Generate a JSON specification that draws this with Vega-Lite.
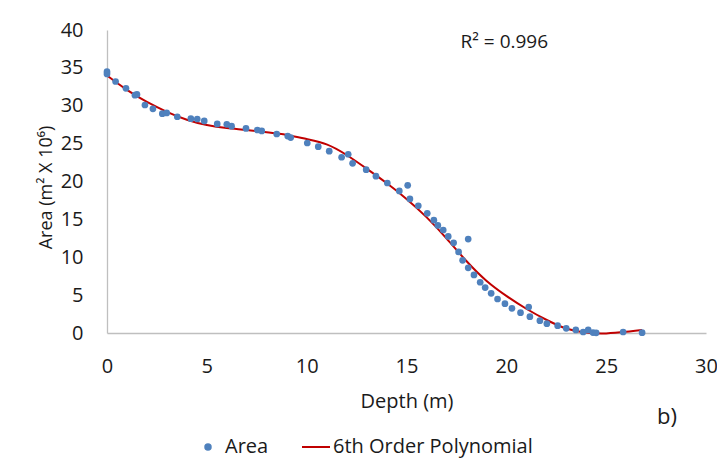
{
  "$schema": "https://vega.github.io/schema/vega-lite/v6.json",
  "autosize": "none",
  "width": 599,
  "height": 303,
  "padding": {"left": 107, "top": 30, "right": 11, "bottom": 141},
  "config": {
    "view": {"stroke": null},
    "font": "Open Sans",
    "axis": {"labelFont": "Open Sans", "titleFont": "Open Sans", "labelColor": "#1a1a1a", "titleColor": "#1a1a1a", "labelFontSize": 20, "titleFontSize": 20, "titleFontWeight": "normal", "grid": false, "ticks": false, "domainColor": "#bfbfbf", "domainWidth": 1.3, "labelOverlap": false, "labelFlush": false},
    "legend": {"labelFont": "Open Sans", "labelFontSize": 20, "labelColor": "#1a1a1a", "labelLimit": 400}
  },
  "datasets": {
    "pts": [
      {"depth": 0, "area": 34.5}, {"depth": 0, "area": 34.2}, {"depth": 0.43, "area": 33.2}, {"depth": 0.95, "area": 32.3},
      {"depth": 1.4, "area": 31.4}, {"depth": 1.5, "area": 31.5}, {"depth": 1.9, "area": 30.1}, {"depth": 2.3, "area": 29.6},
      {"depth": 2.77, "area": 28.95}, {"depth": 2.99, "area": 29.05}, {"depth": 3.52, "area": 28.55}, {"depth": 4.2, "area": 28.3},
      {"depth": 4.52, "area": 28.25}, {"depth": 4.87, "area": 28.0}, {"depth": 5.52, "area": 27.6}, {"depth": 6.0, "area": 27.55},
      {"depth": 6.24, "area": 27.3}, {"depth": 6.96, "area": 27.0}, {"depth": 7.53, "area": 26.8}, {"depth": 7.75, "area": 26.67},
      {"depth": 8.5, "area": 26.27}, {"depth": 9.05, "area": 26.0}, {"depth": 9.2, "area": 25.8}, {"depth": 10.03, "area": 25.08},
      {"depth": 10.58, "area": 24.6}, {"depth": 11.13, "area": 24.0}, {"depth": 11.75, "area": 23.2}, {"depth": 12.08, "area": 23.6},
      {"depth": 12.3, "area": 22.4}, {"depth": 12.98, "area": 21.56}, {"depth": 13.47, "area": 20.7}, {"depth": 14.04, "area": 19.8},
      {"depth": 14.64, "area": 18.75}, {"depth": 15.06, "area": 19.5}, {"depth": 15.17, "area": 17.7}, {"depth": 15.59, "area": 16.8},
      {"depth": 16.04, "area": 15.8}, {"depth": 16.37, "area": 14.9}, {"depth": 16.57, "area": 14.2}, {"depth": 16.84, "area": 13.6},
      {"depth": 17.09, "area": 12.75}, {"depth": 17.36, "area": 11.9}, {"depth": 17.61, "area": 10.7}, {"depth": 17.81, "area": 9.6},
      {"depth": 18.09, "area": 12.4}, {"depth": 18.09, "area": 8.6}, {"depth": 18.38, "area": 7.66}, {"depth": 18.69, "area": 6.7},
      {"depth": 18.94, "area": 6.0}, {"depth": 19.24, "area": 5.24}, {"depth": 19.56, "area": 4.49}, {"depth": 19.93, "area": 3.87},
      {"depth": 20.28, "area": 3.26}, {"depth": 20.71, "area": 2.68}, {"depth": 21.12, "area": 3.43}, {"depth": 21.18, "area": 2.15},
      {"depth": 21.68, "area": 1.63}, {"depth": 22.03, "area": 1.23}, {"depth": 22.57, "area": 0.97}, {"depth": 23.0, "area": 0.62},
      {"depth": 23.48, "area": 0.4}, {"depth": 23.85, "area": 0.13}, {"depth": 24.1, "area": 0.4}, {"depth": 24.34, "area": 0.05},
      {"depth": 24.5, "area": 0.02}, {"depth": 25.85, "area": 0.13}, {"depth": 26.8, "area": 0.04}
    ],
    "fit": [
      {"depth": 0, "area": 34.0}, {"depth": 1, "area": 32.1}, {"depth": 2, "area": 30.5}, {"depth": 3, "area": 29.2},
      {"depth": 4, "area": 28.15}, {"depth": 5, "area": 27.45}, {"depth": 6, "area": 27.05}, {"depth": 7, "area": 26.8},
      {"depth": 8, "area": 26.5}, {"depth": 9, "area": 26.15}, {"depth": 10, "area": 25.6}, {"depth": 11, "area": 24.9},
      {"depth": 12, "area": 23.5}, {"depth": 13, "area": 21.7}, {"depth": 14, "area": 19.8}, {"depth": 15, "area": 17.7},
      {"depth": 16, "area": 15.3}, {"depth": 17, "area": 12.5}, {"depth": 18, "area": 9.5}, {"depth": 19, "area": 6.9},
      {"depth": 20, "area": 4.9}, {"depth": 21, "area": 3.2}, {"depth": 22, "area": 1.75}, {"depth": 23, "area": 0.6},
      {"depth": 24, "area": 0.05}, {"depth": 25, "area": -0.05}, {"depth": 26, "area": 0.15}, {"depth": 26.8, "area": 0.4}
    ]
  },
  "layer": [
    {
      "data": {"name": "fit"},
      "transform": [{"calculate": "'6th Order Polynomial'", "as": "series"}],
      "mark": {"type": "line", "interpolate": "natural", "strokeWidth": 2, "clip": false},
      "encoding": {
        "x": {"field": "depth", "type": "quantitative", "scale": {"domain": [0, 30]}, "axis": {"title": "Depth (m)", "values": [0, 5, 10, 15, 20, 25, 30], "labelOverlap": false, "labelPadding": 23, "titlePadding": 15}},
        "y": {"field": "area", "type": "quantitative", "scale": {"domain": [0, 40]}, "axis": {"title": "Area (m² X 10⁶)", "titleFontSize": 18, "titleY": 157, "values": [0, 5, 10, 15, 20, 25, 30, 35, 40], "labelOverlap": false, "labelPadding": 24, "titlePadding": 5}},
        "color": {"field": "series", "type": "nominal", "scale": {"domain": ["Area", "6th Order Polynomial"], "range": ["#4f81bd", "#c00000"]},
          "legend": {"title": null, "orient": "none", "legendX": 86, "legendY": 402, "direction": "horizontal", "columnPadding": 29, "labelOffset": 2,
            "encode": {"symbols": {"update": {"shape": {"signal": "datum.value === 'Area' ? 'circle' : 'stroke'"}, "size": {"signal": "datum.value === 'Area' ? 30 : 784"}, "strokeWidth": {"value": 2}}}}}}
      }
    },
    {
      "data": {"name": "pts"},
      "transform": [{"calculate": "'Area'", "as": "series"}],
      "mark": {"type": "circle", "size": 45, "opacity": 1},
      "encoding": {
        "x": {"field": "depth", "type": "quantitative", "scale": {"domain": [0, 30]}, "axis": {"title": "Depth (m)", "values": [0, 5, 10, 15, 20, 25, 30], "labelOverlap": false, "labelPadding": 23, "titlePadding": 15}},
        "y": {"field": "area", "type": "quantitative", "scale": {"domain": [0, 40]}, "axis": {"title": "Area (m² X 10⁶)", "titleFontSize": 18, "titleY": 157, "values": [0, 5, 10, 15, 20, 25, 30, 35, 40], "labelOverlap": false, "labelPadding": 24, "titlePadding": 5}},
        "color": {"field": "series", "type": "nominal"}
      }
    },
    {
      "data": {"values": [{}]},
      "mark": {"type": "text", "fontSize": 19, "font": "Open Sans", "color": "#1a1a1a"},
      "encoding": {
        "x": {"datum": 19.9, "type": "quantitative", "scale": {"domain": [0, 30]}, "axis": {"title": "Depth (m)", "values": [0, 5, 10, 15, 20, 25, 30], "labelOverlap": false, "labelPadding": 23, "titlePadding": 15}},
        "y": {"datum": 38.4, "type": "quantitative", "scale": {"domain": [0, 40]}, "axis": {"title": "Area (m² X 10⁶)", "titleFontSize": 18, "titleY": 157, "values": [0, 5, 10, 15, 20, 25, 30, 35, 40], "labelOverlap": false, "labelPadding": 24, "titlePadding": 5}},
        "text": {"value": "R² = 0.996"}
      }
    },
    {
      "data": {"values": [{}]},
      "mark": {"type": "text", "fontSize": 22, "font": "Open Sans", "color": "#1a1a1a"},
      "encoding": {
        "x": {"datum": 28.05, "type": "quantitative", "scale": {"domain": [0, 30]}, "axis": {"title": "Depth (m)", "values": [0, 5, 10, 15, 20, 25, 30], "labelOverlap": false, "labelPadding": 23, "titlePadding": 15}},
        "y": {"datum": -11.1, "type": "quantitative", "scale": {"domain": [0, 40]}, "axis": {"title": "Area (m² X 10⁶)", "titleFontSize": 18, "titleY": 157, "values": [0, 5, 10, 15, 20, 25, 30, 35, 40], "labelOverlap": false, "labelPadding": 24, "titlePadding": 5}},
        "text": {"value": "b)"}
      }
    }
  ]
}
